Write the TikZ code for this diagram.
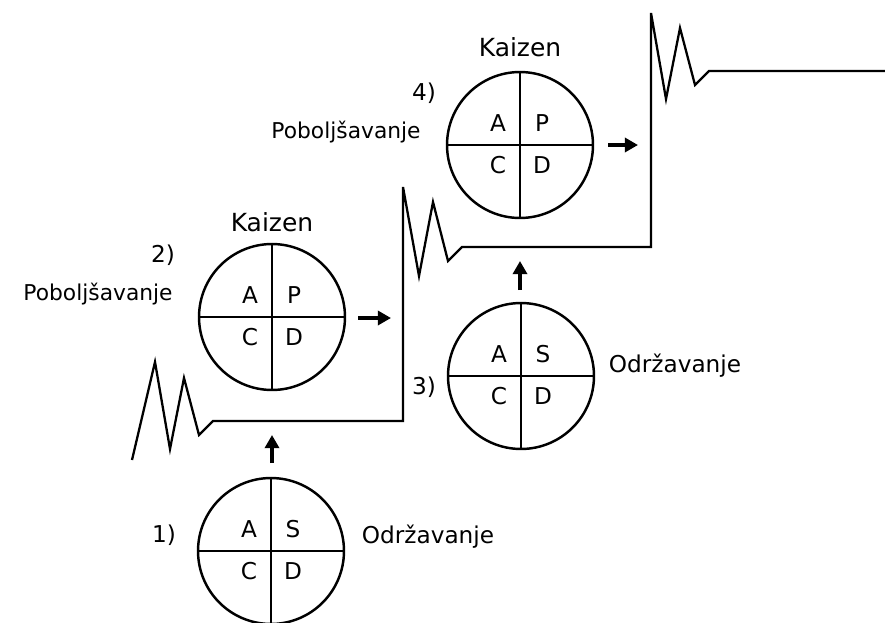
\documentclass[tikz,border=0pt]{standalone}
\usepackage{fontspec}
\setmainfont{DejaVu Sans}
\usetikzlibrary{arrows.meta}

\begin{document}
\begin{tikzpicture}[x=0.02cm, y=-0.02cm,
    krug/.style={draw, circle, line width=1.4pt, minimum size=2.92cm, inner sep=0pt},
    kriz/.style={line width=1.1pt},
    slovo/.style={font=\fontsize{13.2}{15}\selectfont},
    naslov/.style={font=\fontsize{14.2}{16}\selectfont},
    opis/.style={font=\fontsize{12.4}{14}\selectfont},
    strelica/.style={-{Triangle[length=7.5pt, width=8pt]}, line width=2.4pt},
    stepenica/.style={line width=1.3pt, line join=miter}]

    % --- Okvir slike (u pikselima reference) ---
    \useasboundingbox (0,0) rectangle (885,622);

    % =========================================================================
    % STEPENICE: razina standarda raste nakon svakog Kaizena
    % =========================================================================
    \draw[stepenica] (132,460) -- (155,362) -- (170,449) -- (184,378) -- (199,435) -- (213,421)
        -- (403,421) -- (403,187) -- (419,276) -- (433,202) -- (448,261) -- (462,247)
        -- (651,247) -- (651,13) -- (666,99) -- (680,28) -- (695,85) -- (709,71) -- (885,71);

    % =========================================================================
    % KRUGOVI: SDCA (održavanje) i PDCA (poboljšavanje)
    % =========================================================================
    \foreach \n/\cx/\cy/\gore in {1/271/551/S, 2/272/317/P, 3/521/376/S, 4/520/145/P} {
        % 1. Krug i križ
        \node[krug] (k\n) at (\cx,\cy) {};
        \draw[kriz] (k\n.north) -- (k\n.south) (k\n.west) -- (k\n.east);
        % 2. Slova u kvadrantima
        \node[slovo] (a\n) at (\cx-22,\cy-22) {A};
        \node[slovo] (g\n) at (\cx+22,\cy-22) {\gore};
        \node[slovo] (c\n) at (\cx-22,\cy+20) {C};
        \node[slovo] (d\n) at (\cx+22,\cy+20) {D};
    }

    % 3. Oznake koraka
    \node[slovo] (br1) at (164,535) {1)};
    \node[slovo] (br2) at (163,255) {2)};
    \node[slovo] (br3) at (424,387) {3)};
    \node[slovo] (br4) at (424,93) {4)};

    % 4. Natpisi uz krugove
    \node[naslov] (kaizen2) at (272,222) {Kaizen};
    \node[naslov] (kaizen4) at (520,47) {Kaizen};
    \node[opis] (pob2) at (98,294) {Poboljšavanje};
    \node[opis] (pob4) at (346,132) {Poboljšavanje};
    \node[slovo] (odr1) at (428,537) {Održavanje};
    \node[slovo] (odr3) at (675,366) {Održavanje};

    % =========================================================================
    % STRELICE
    % =========================================================================
    \coordinate (s1a) at (272,463);
    \coordinate (s1b) at (272,435);
    \coordinate (s2a) at (358,318);
    \coordinate (s2b) at (391,318);
    \coordinate (s3a) at (520,290);
    \coordinate (s3b) at (520,261);
    \coordinate (s4a) at (608,145);
    \coordinate (s4b) at (638,145);
    \draw[strelica] (s1a) -- (s1b);
    \draw[strelica] (s2a) -- (s2b);
    \draw[strelica] (s3a) -- (s3b);
    \draw[strelica] (s4a) -- (s4b);

\end{tikzpicture}
\end{document}
